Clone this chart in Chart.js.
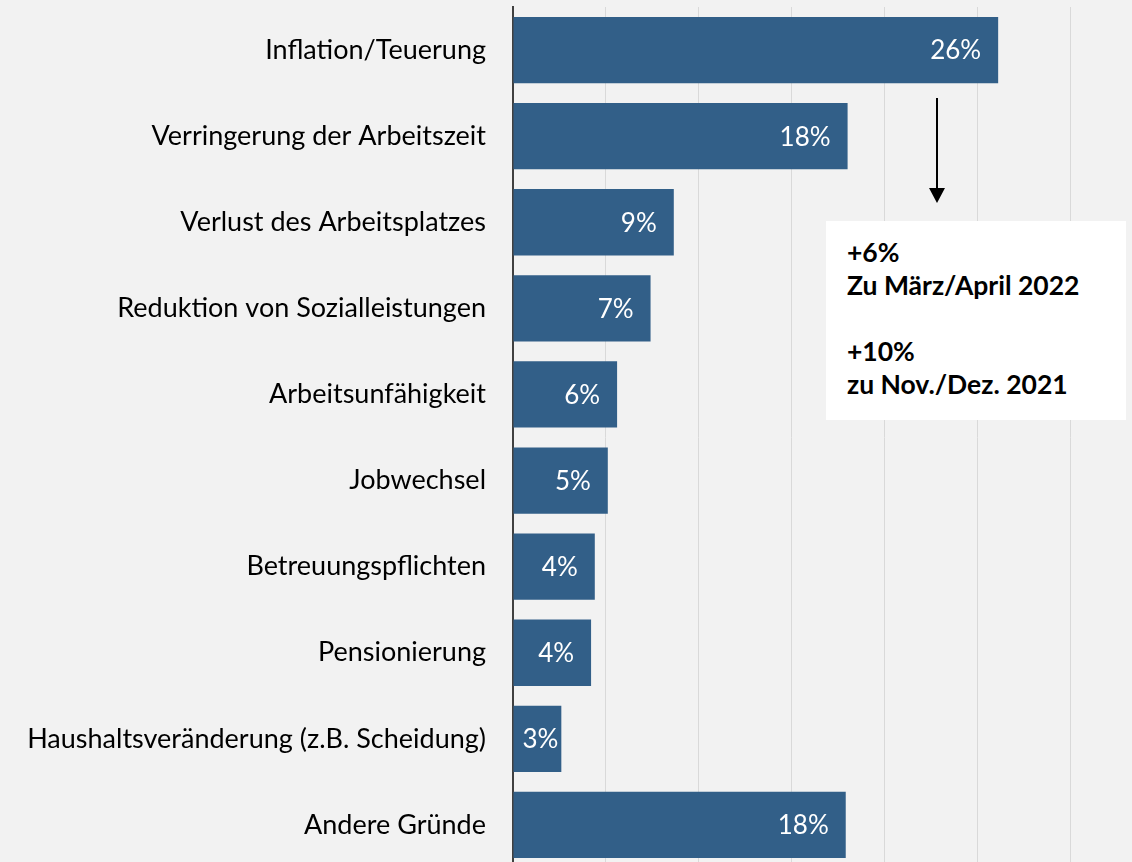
<!DOCTYPE html>
<html lang="de">
  <head>
    <meta charset="utf-8">
    <title>Gründe</title>
    <style>
      body {padding: 0; margin: 0; background: #f2f2f2; overflow: hidden;}
      #wrap {position: relative; width: 1132px; height: 868px;}
      #note {
        position: absolute; left: 826px; top: 221px; width: 279px; height: 184px;
        background: #ffffff; padding: 15px 0 0 21px;
        font-family: Lato, sans-serif; font-weight: bold; font-size: 26.5px;
        line-height: 33px; color: #000;
      }
    </style>
    <script src="https://cdn.jsdelivr.net/npm/chart.js@4.4.0/dist/chart.umd.min.js"></script>
  </head>
  <body>
    <div id="wrap">
      <canvas id="reasons" width="1132" height="868"></canvas>
      <div id="note">+6%<br>Zu März/April 2022<br><br>+10%<br>zu Nov./Dez. 2021</div>
    </div>
    <script>

      var categories = [
        'Inflation/Teuerung',
        'Verringerung der Arbeitszeit',
        'Verlust des Arbeitsplatzes',
        'Reduktion von Sozialleistungen',
        'Arbeitsunfähigkeit',
        'Jobwechsel',
        'Betreuungspflichten',
        'Pensionierung',
        'Haushaltsveränderung (z.B. Scheidung)',
        'Andere Gründe'
      ];
      var values = [26.1, 18.0, 8.65, 7.4, 5.6, 5.1, 4.4, 4.2, 2.6, 17.9];
      var valueLabels = ['26%', '18%', '9%', '7%', '6%', '5%', '4%', '4%', '3%', '18%'];

      var labelFont = '26px Lato, sans-serif';

      // white value labels near the bar end
      var barLabels = {
        id: 'barLabels',
        afterDatasetsDraw(chart) {
          var ctx = chart.ctx;
          var bars = chart.getDatasetMeta(0).data;
          ctx.save();
          ctx.font = labelFont;
          ctx.fillStyle = '#ffffff';
          ctx.textBaseline = 'middle';
          ctx.textAlign = 'left';
          bars.forEach(function(bar, i) {
            var txt = valueLabels[i];
            var w = ctx.measureText(txt).width;
            var x = Math.max(bar.x - 17 - w, bar.base + 9);
            ctx.fillText(txt, x, bar.y + 1);
          });
          ctx.restore();
        }
      };

      // arrow from the first bar down to the note
      var arrow = {
        id: 'arrow',
        afterDraw(chart) {
          var ctx = chart.ctx;
          var x = 937;
          ctx.save();
          ctx.strokeStyle = '#000';
          ctx.fillStyle = '#000';
          ctx.lineWidth = 2;
          ctx.beginPath();
          ctx.moveTo(x, 98);
          ctx.lineTo(x, 190);
          ctx.stroke();
          ctx.beginPath();
          ctx.moveTo(x - 8, 188);
          ctx.lineTo(x + 8, 188);
          ctx.lineTo(x, 203);
          ctx.closePath();
          ctx.fill();
          ctx.restore();
        }
      };

      var ctx = document.getElementById('reasons').getContext('2d');
      var myChart = new Chart(ctx, {
        type: 'bar',
        data: {
          labels: categories,
          datasets: [{
            data: values,
            backgroundColor: '#325f88',
            barPercentage: 0.77,
            categoryPercentage: 1
          }]
        },
        options: {
          indexAxis: 'y',
          responsive: false,
          animation: false,
          layout: {padding: {top: 7, left: 0, right: 0, bottom: 0}},
          plugins: {legend: {display: false}, tooltip: {enabled: false}},
          scales: {
            x: {
              min: 0,
              max: 33.3,
              ticks: {display: false, stepSize: 5},
              border: {display: false},
              grid: {
                drawTicks: false,
                color: function(c) {
                  return c.tick && c.tick.value % 5 === 0 && c.tick.value > 0 ? '#d9d9d9' : 'transparent';
                }
              },
              afterFit: function(scale) {
                scale.height = 0;
                scale.paddingLeft = 0;
                scale.paddingRight = 0;
              }
            },
            y: {
              ticks: {
                font: {family: 'Lato', size: 27},
                color: '#000000',
                padding: 27,
                autoSkip: false
              },
              grid: {display: false, drawTicks: false},
              border: {display: true, color: '#404040', width: 2},
              afterFit: function(scale) {
                scale.width = 513;
                scale.paddingTop = 0;
                scale.paddingBottom = 0;
              }
            }
          }
        },
        plugins: [barLabels, arrow]
      });
    </script>
  </body>
</html>
